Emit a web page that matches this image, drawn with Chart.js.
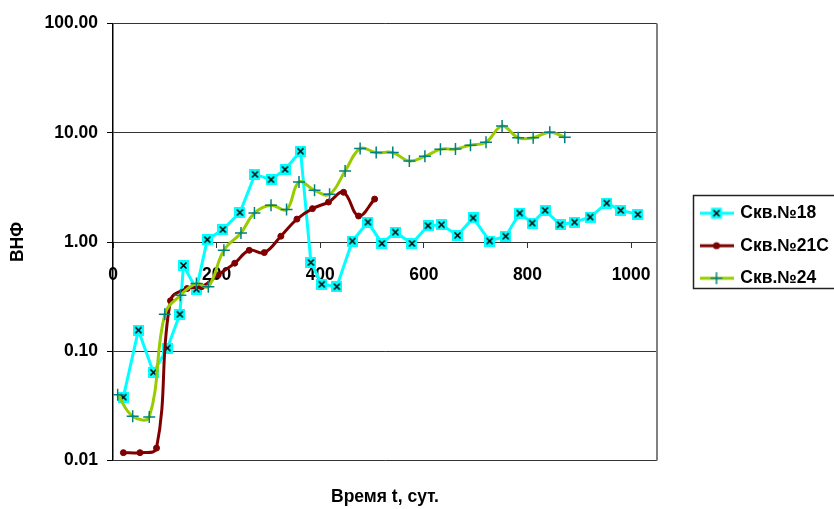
<!DOCTYPE html>
<html>
<head>
<meta charset="utf-8">
<script src="https://cdn.jsdelivr.net/npm/chart.js@4"></script>
<style>
  html, body { margin: 0; padding: 0; background: #fff; }
  #wrap { width: 834px; height: 509px; }
</style>
</head>
<body>
<div id="wrap"><canvas id="chart" width="834" height="509"></canvas></div>
<script>
// Data (x = days, y = water-oil ratio)
const s18Days = [20, 49, 78, 105, 129, 136, 161, 182, 212, 245, 274, 305, 332, 362, 382, 403, 432, 462, 492, 519,
                 545, 577, 608, 634, 665, 695, 727, 758, 785, 809, 834, 863, 891, 921, 953, 980, 1013];
const s18Vals = [0.038, 0.156, 0.064, 0.107, 0.218, 0.61, 0.37, 1.05, 1.30, 1.86, 4.16, 3.72, 4.62, 6.78, 0.65, 0.41, 0.39, 1.02, 1.52, 0.97,
                 1.23, 0.97, 1.41, 1.44, 1.15, 1.66, 1.02, 1.13, 1.84, 1.49, 1.95, 1.44, 1.52, 1.69, 2.27, 1.95, 1.79];

const s21Days = [20, 52, 84, 111, 143, 171, 203, 235, 263, 292, 324, 355, 385, 416, 445, 474, 505];
const s21Vals = [0.0118, 0.0118, 0.013, 0.29, 0.375, 0.39, 0.50, 0.64, 0.84, 0.80, 1.13, 1.62, 2.02, 2.32, 2.85, 1.73, 2.47];

const s24Days = [9, 38, 70, 100, 130, 161, 184, 214, 247, 273, 305, 335, 359, 389, 418, 448, 477, 508, 540, 572,
                 602, 632, 661, 690, 720, 751, 782, 811, 843, 872];
const s24Vals = [0.040, 0.0254, 0.025, 0.218, 0.325, 0.416, 0.39, 0.84, 1.21, 1.84, 2.17, 1.98, 3.54, 2.97, 2.73, 4.46, 7.16, 6.58, 6.58, 5.51,
                 6.08, 7.05, 7.10, 7.7, 8.2, 11.5, 9.0, 9.0, 10.1, 9.1];

const seriesNames = ['Скв.№18', 'Скв.№21С', 'Скв.№24'];
const xTicks = [0, 200, 400, 600, 800, 1000];
const yTicks = [0.01, 0.1, 1, 10, 100];

const CYAN = '#00FFFF', MAROON = '#800000', LIME = '#99CC00', TEAL = '#008080';
const FONT = { family: "'Liberation Sans', Arial, sans-serif", size: 17.5, weight: 'bold', lineHeight: 1.2 };

Chart.defaults.font.family = FONT.family;
Chart.defaults.color = '#000';

function toPoints(days, vals) {
    return days.map((d, i) => ({ x: d, y: vals[i] }));
}

// cyan square with a black cross, used as marker for series 18
function drawBoxX(g, cx, cy, size) {
    const h = size / 2;
    g.fillStyle = CYAN;
    g.fillRect(cx - h, cy - h, size, size);
    g.strokeStyle = '#000';
    g.lineWidth = 1.5;
    g.beginPath();
    g.moveTo(cx - h + 2.5, cy - h + 2.5); g.lineTo(cx + h - 2.5, cy + h - 2.5);
    g.moveTo(cx + h - 2.5, cy - h + 2.5); g.lineTo(cx - h + 2.5, cy + h - 2.5);
    g.stroke();
}

function makeBoxX() {
    const c = document.createElement('canvas');
    c.width = 11; c.height = 11;
    drawBoxX(c.getContext('2d'), 5.5, 5.5, 11);
    return c;
}

// legend sample: short line with marker in the middle
function makeLegendIcon(kind) {
    const c = document.createElement('canvas');
    c.width = 34; c.height = 14;
    const g = c.getContext('2d');
    const color = kind === 0 ? CYAN : kind === 1 ? MAROON : LIME;
    g.strokeStyle = color;
    g.lineWidth = 3;
    g.beginPath(); g.moveTo(0, 7); g.lineTo(34, 7); g.stroke();
    if (kind === 0) {
        drawBoxX(g, 17, 7, 11);
    } else if (kind === 1) {
        g.fillStyle = MAROON;
        g.beginPath(); g.arc(17, 7, 3.5, 0, Math.PI * 2); g.fill();
    } else {
        g.strokeStyle = TEAL; g.lineWidth = 1.5;
        g.beginPath(); g.moveTo(11, 7); g.lineTo(23, 7); g.moveTo(17, 1); g.lineTo(17, 13); g.stroke();
    }
    return c;
}

const legendIcons = [0, 1, 2].map(makeLegendIcon);

// frame on the right side of the plot and the box round the legend
const framePlugin = {
    id: 'frame',
    afterLayout(chart) {
        const lg = chart.legend;
        lg.left = 686.5; lg.top = 189.5;
        lg.width = 160; lg.height = 120;
        lg.right = lg.left + lg.width;
        lg.bottom = lg.top + lg.height;
    },
    afterDraw(chart) {
        const ctx = chart.ctx, a = chart.chartArea;
        ctx.save();
        ctx.strokeStyle = '#808080';
        ctx.lineWidth = 2;
        ctx.beginPath(); ctx.moveTo(a.right, a.top); ctx.lineTo(a.right, a.bottom); ctx.stroke();
        ctx.strokeStyle = '#222';
        ctx.lineWidth = 1.5;
        ctx.strokeRect(693.5, 195.5, 200, 93);
        ctx.restore();
    }
};

new Chart(document.getElementById('chart'), {
    type: 'line',
    data: {
        datasets: [
            {
                label: seriesNames[0],
                data: toPoints(s18Days, s18Vals),
                borderColor: CYAN, borderWidth: 3, tension: 0,
                pointStyle: makeBoxX(), pointRadius: 5,
                order: 3
            },
            {
                label: seriesNames[1],
                data: toPoints(s21Days, s21Vals),
                borderColor: MAROON, borderWidth: 3, tension: 0.4,
                pointStyle: 'circle', pointRadius: 3,
                pointBackgroundColor: MAROON, pointBorderColor: MAROON, pointBorderWidth: 1,
                order: 2
            },
            {
                label: seriesNames[2],
                data: toPoints(s24Days, s24Vals),
                borderColor: LIME, borderWidth: 3, tension: 0.4,
                pointStyle: 'cross', pointRadius: 6,
                pointBorderColor: TEAL, pointBorderWidth: 1.5,
                order: 1
            }
        ]
    },
    options: {
        responsive: false,
        animation: false,
        devicePixelRatio: 1,
        layout: { padding: { left: 0, top: 23.5, right: 177, bottom: 0 } },
        scales: {
            x: {
                type: 'linear', min: 0, max: 1050,
                position: { y: 1 },
                afterBuildTicks: s => { s.ticks = xTicks.map(v => ({ value: v })); },
                afterFit: s => { s.height = 0; },
                ticks: { font: FONT, color: '#000', padding: 18, maxRotation: 0, autoSkip: false, callback: v => v },
                grid: { drawOnChartArea: false, drawTicks: true, tickLength: 5, color: '#333', lineWidth: 1 },
                border: { display: true, color: '#333', width: 1 }
            },
            y: {
                type: 'logarithmic', min: 0.01, max: 100,
                afterBuildTicks: s => { s.ticks = yTicks.map(v => ({ value: v })); },
                afterFit: s => { s.width = 113; },
                ticks: { font: FONT, color: '#000', padding: 9, autoSkip: false, callback: v => Number(v).toFixed(2) },
                grid: { color: '#333', lineWidth: 1, tickLength: 6, tickColor: '#000' },
                border: { color: '#000', width: 1.5 },
                title: { display: true, text: 'ВНФ', font: FONT, color: '#000', padding: { top: 8, bottom: 0 } }
            }
        },
        plugins: {
            legend: {
                position: 'chartArea',
                align: 'start',
                labels: {
                    usePointStyle: true,
                    pointStyleWidth: 30,
                    padding: 15,
                    font: FONT,
                    color: '#000',
                    generateLabels: chart => chart.data.datasets.map((ds, i) => ({
                        text: ds.label,
                        pointStyle: legendIcons[i],
                        datasetIndex: i,
                        hidden: false,
                        fontColor: '#000',
                        lineWidth: 0,
                        strokeStyle: 'transparent',
                        fillStyle: 'transparent'
                    }))
                }
            },
            title: {
                display: true,
                position: 'bottom',
                fullSize: false,
                text: 'Время t, сут.',
                font: FONT,
                color: '#000',
                padding: { top: 26, bottom: 1.5 }
            },
            tooltip: { enabled: false }
        }
    },
    plugins: [framePlugin]
});
</script>
</body>
</html>
